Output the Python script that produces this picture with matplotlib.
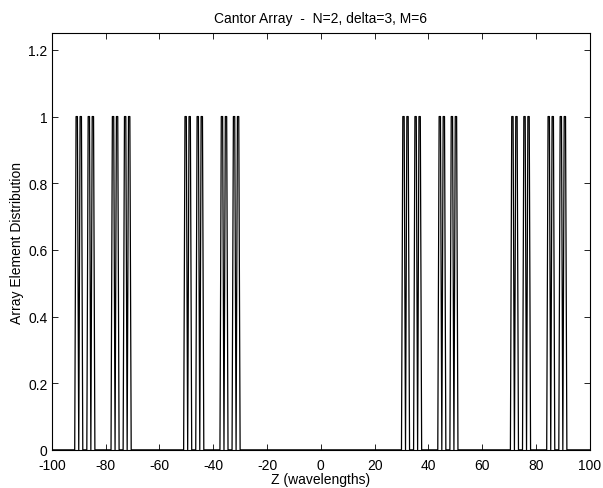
import numpy as np
import matplotlib
matplotlib.use("Agg")
import matplotlib.pyplot as plt

plt.rcParams['font.family'] = ['Liberation Sans', 'DejaVu Sans']

# Element positions (wavelengths) of the Cantor array
element_z = [
    -91.0, -90.5, -89.5, -89.0, -86.5, -86.0, -85.0, -84.5,
    -77.5, -77.0, -76.0, -75.5, -73.0, -72.5, -71.5, -71.0,
    -50.5, -50.0, -49.0, -48.5, -46.0, -45.5, -44.5, -44.0,
    -37.0, -36.5, -35.5, -35.0, -32.5, -32.0, -31.0, -30.5,
    30.5, 31.0, 32.0, 32.5, 35.0, 35.5, 36.5, 37.0,
    44.0, 44.5, 45.5, 46.0, 48.5, 49.0, 50.0, 50.5,
    71.0, 71.5, 72.5, 73.0, 75.5, 76.0, 77.0, 77.5,
    84.5, 85.0, 86.0, 86.5, 89.0, 89.5, 90.5, 91.0,
]
element_amp = [1.0] * len(element_z)

x_ticks = [-100, -80, -60, -40, -20, 0, 20, 40, 60, 80, 100]
y_ticks = [0, 0.2, 0.4, 0.6, 0.8, 1.0, 1.2]
y_tick_labels = ["0", "0.2", "0.4", "0.6", "0.8", "1", "1.2"]

# sampled distribution on a 0.5-wavelength grid
grid = np.arange(-100, 100.25, 0.5)
dist = np.zeros_like(grid)
for z, a in zip(element_z, element_amp):
    dist[np.argmin(np.abs(grid - z))] = a

fig = plt.figure(figsize=(6.03, 4.89), dpi=100)
ax = fig.add_axes([0.086, 0.078, 0.892, 0.852])
ax.plot(grid, dist, color='black', linewidth=0.9)

ax.set_xlim(-100, 100)
ax.set_ylim(0, 1.25)
ax.set_xticks(x_ticks)
ax.set_xticklabels([str(t) for t in x_ticks])
ax.set_yticks(y_ticks)
ax.set_yticklabels(y_tick_labels)
ax.tick_params(direction='in', top=True, right=True, length=4, width=0.6,
               labelsize=10)
ax.tick_params(axis='x', pad=6)
ax.tick_params(axis='y', pad=3)
for s in ax.spines.values():
    s.set_linewidth(0.8)

ax.set_title("Cantor Array  -  N=2, delta=3, M=6", fontsize=10, pad=8)
ax.set_xlabel("Z (wavelengths)", fontsize=10, labelpad=0)
ax.set_ylabel("Array Element Distribution", fontsize=10, labelpad=3)

fig.savefig("out.png", dpi=100)
